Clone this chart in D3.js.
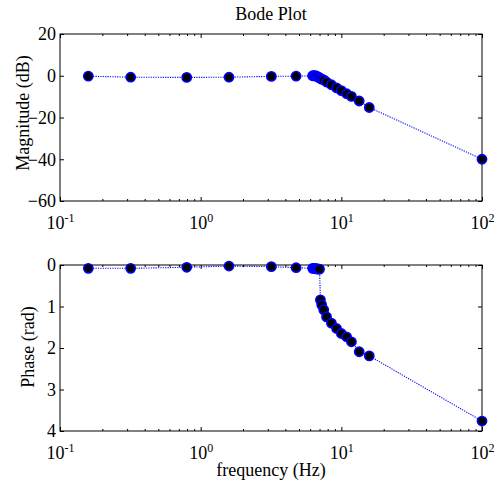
<!DOCTYPE html>
<html>
<head>
<meta charset="utf-8">
<script src="https://cdn.jsdelivr.net/npm/d3@7"></script>
<style>
  body { margin: 0; background: #fff; }
  svg { font-family: "Liberation Serif", "Times New Roman", serif; }
  .domain { display: none; }
</style>
</head>
<body>
<div id="bode"></div>
<script>
// frequency points (Hz)
var freq = [0.159, 0.318, 0.796, 1.59, 3.18, 4.77, 6.25, 6.4, 6.55, 6.7, 6.85, 7.0,
            7.1, 7.25, 7.5, 7.85, 8.5, 9.25, 10.0, 10.9, 11.8, 13.4, 15.8, 100];
// magnitude (dB)
var mag = [-0.2, -0.7, -0.8, -0.7, -0.3, -0.2, 0, 0, 0, -0.3, -0.6, -1.0,
           -1.3, -1.6, -2.0, -3.0, -4.3, -5.8, -7.1, -8.6, -9.9, -12.1, -15.2, -40];
// phase (rad), axis is reversed
var phase = [0.08, 0.08, 0.055, 0.025, 0.04, 0.065, 0.08, 0.08, 0.09, 0.09, 0.1, 0.1,
             0.84, 0.96, 1.08, 1.25, 1.4, 1.53, 1.65, 1.73, 1.85, 2.09, 2.19, 3.76];

var magTicks = [-60, -40, -20, 0, 20];
var phaseTicks = [0, 1, 2, 3, 4];
var decades = [0.1, 1, 10, 100];

var width = 497, height = 484;
var fontSize = "18px";
var svg = d3.select("#bode").append("svg")
    .attr("width", width)
    .attr("height", height);

var left = 60, right = 482;
var xScale = d3.scaleLog().domain([0.1, 100]).range([left, right]);

var minors = [];
for (var e = -1; e < 2; e++) {
    for (var k = 2; k < 10; k++) minors.push(k * Math.pow(10, e));
}

function serif(sel) {
    sel.attr("font-family", null).attr("font-size", fontSize);
}

function drawPanel(top, bottom, yScale, yTicks, values, ylabel, labelX, labelY) {
    var g = svg.append("g");

    // box
    g.append("rect")
        .attr("x", left).attr("y", top)
        .attr("width", right - left).attr("height", bottom - top)
        .attr("fill", "none").attr("stroke", "#000").attr("stroke-width", 1);

    // x ticks bottom (with labels) and top
    var xb = g.append("g").attr("transform", "translate(0," + bottom + ")")
        .call(d3.axisBottom(xScale).tickValues(decades).tickSizeInner(-4).tickSizeOuter(0).tickPadding(15))
        .call(serif);
    xb.selectAll(".tick text")
        .attr("fill", "#000")
        .text("10")
        .append("tspan")
        .attr("dy", "-0.6em")
        .attr("font-size", "12px")
        .text(function (d) { return Math.round(Math.log10(d)); });
    g.append("g").attr("transform", "translate(0," + top + ")")
        .call(d3.axisTop(xScale).tickValues(decades).tickSizeInner(-4).tickSizeOuter(0).tickFormat(""));
    g.append("g").attr("transform", "translate(0," + bottom + ")")
        .call(d3.axisBottom(xScale).tickValues(minors).tickSizeInner(-2).tickSizeOuter(0).tickFormat(""));
    g.append("g").attr("transform", "translate(0," + top + ")")
        .call(d3.axisTop(xScale).tickValues(minors).tickSizeInner(-2).tickSizeOuter(0).tickFormat(""));

    // y ticks left (with labels) and right
    g.append("g").attr("transform", "translate(" + left + ",0)")
        .call(d3.axisLeft(yScale).tickValues(yTicks).tickFormat(d3.format("d"))
            .tickSizeInner(-4).tickSizeOuter(0).tickPadding(4))
        .call(serif)
        .selectAll(".tick text")
            .attr("fill", "#000");
    g.append("g").attr("transform", "translate(" + right + ",0)")
        .call(d3.axisRight(yScale).tickValues(yTicks).tickSizeInner(-4).tickSizeOuter(0).tickFormat(""));

    g.selectAll(".tick line").attr("stroke", "#000");

    // y label
    g.append("text")
        .attr("transform", "translate(" + labelX + "," + labelY + ") rotate(-90)")
        .attr("text-anchor", "middle")
        .attr("font-size", fontSize)
        .text(ylabel);

    var pts = freq.map(function (f, i) { return { x: f, y: values[i] }; });

    var line = d3.line()
        .x(function (d) { return xScale(d.x); })
        .y(function (d) { return yScale(d.y); });

    g.append("path")
        .datum(pts)
        .attr("d", line)
        .attr("fill", "none")
        .attr("stroke", "#0000ff")
        .attr("stroke-width", 1.1)
        .attr("stroke-dasharray", "1.2,1.2");

    g.selectAll("circle")
        .data(pts)
        .enter().append("circle")
        .attr("cx", function (d) { return xScale(d.x); })
        .attr("cy", function (d) { return yScale(d.y); })
        .attr("r", 4.6)
        .attr("fill", "#000")
        .attr("stroke", "#0000ff")
        .attr("stroke-width", 1.6);
}

var yMag = d3.scaleLinear().domain([-60, 20]).range([201, 34]);
drawPanel(34, 201, yMag, magTicks, mag, "Magnitude (dB)", 29, 113);

var yPhase = d3.scaleLinear().domain([0, 4]).range([265, 431]);
drawPanel(265, 431, yPhase, phaseTicks, phase, "Phase (rad)", 34, 347);

// title and x label
svg.append("text")
    .attr("x", (left + right) / 2).attr("y", 20)
    .attr("text-anchor", "middle")
    .attr("font-size", fontSize)
    .text("Bode Plot");

svg.append("text")
    .attr("x", (left + right) / 2).attr("y", 476)
    .attr("text-anchor", "middle")
    .attr("font-size", fontSize)
    .text("frequency (Hz)");
</script>
</body>
</html>
